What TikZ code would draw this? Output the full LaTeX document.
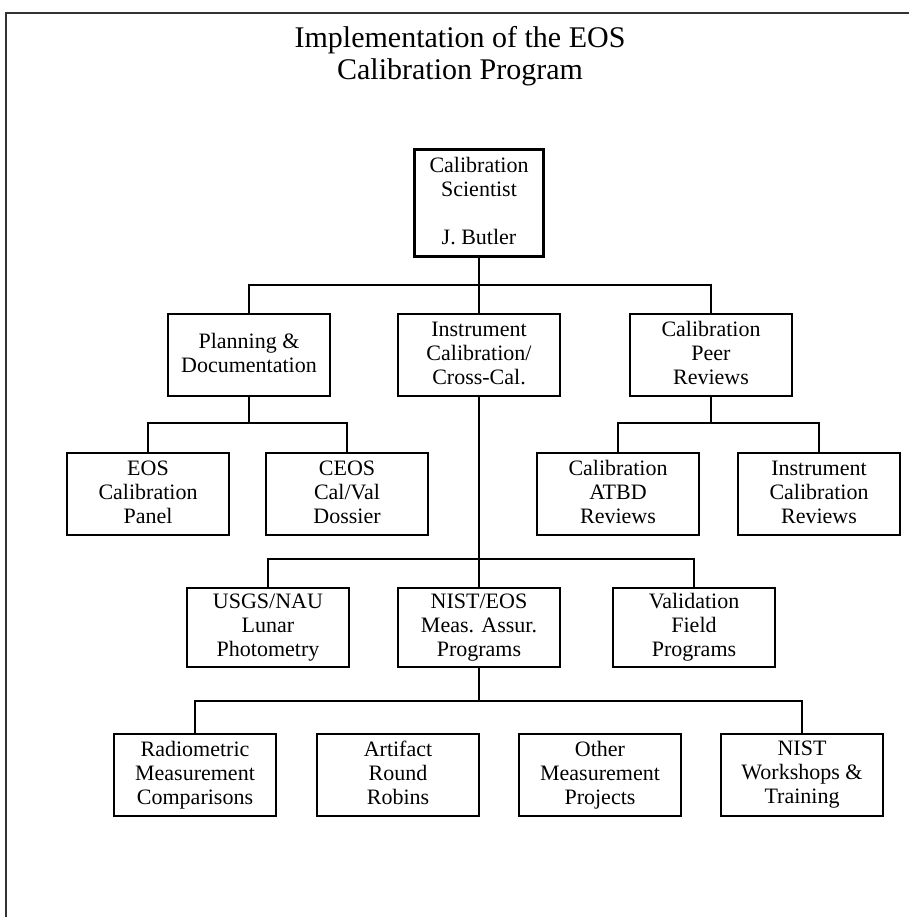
\documentclass[tikz,border=0pt]{standalone}
\usepackage{fontspec}
\setmainfont{Liberation Serif}
\tikzset{
  orgbox/.style={draw=black, line width=2.1pt, minimum width=162pt, minimum height=82pt,
    inner sep=0pt, align=center, font=\fontsize{22}{24}\selectfont,
    execute at begin node={\rule{0pt}{19pt}}, execute at end node={\rule[-4pt]{0pt}{4pt}}},
  link/.style={draw=black, line width=2.1pt},
  frameline/.style={draw=black!80, line width=1.4pt},
}
\begin{document}
\begin{tikzpicture}[x=1pt,y=-1pt]
\useasboundingbox (0,0) rectangle (909,917);
% frame (top and left edges)
\draw[frameline] (6,917) -- (6,13) -- (909,13);
% title
\node[anchor=north, align=center, inner sep=0pt, font=\fontsize{30}{32}\selectfont] (title) at (460,26)
  {Implementation of the EOS\\Calibration Program};
% level 1
\node[orgbox, minimum width=129pt, minimum height=107pt] (top) at (479,203)
  {Calibration\\Scientist\\[24pt]J. Butler};
% level 2
\node[orgbox] (plan) at (249,355) {Planning \&\\Documentation};
\node[orgbox] (inst) at (479,355) {Instrument\\Calibration/\\Cross-Cal.};
\node[orgbox] (peer) at (711,355) {Calibration\\Peer\\Reviews};
% level 3
\node[orgbox] (eospanel) at (148,494) {EOS\\Calibration\\Panel};
\node[orgbox] (ceos) at (347,494) {CEOS\\Cal/Val\\Dossier};
\node[orgbox] (atbd) at (618,494) {Calibration\\ATBD\\Reviews};
\node[orgbox] (icr) at (819,494) {Instrument\\Calibration\\Reviews};
% level 4
\node[orgbox, minimum height=79pt] (usgs) at (268,627.5) {USGS/NAU\\Lunar\\Photometry};
\node[orgbox, minimum height=79pt] (nist) at (479,627.5) {NIST/EOS\\Meas. Assur.\\Programs};
\node[orgbox, minimum height=79pt] (valid) at (694,627.5) {Validation\\Field\\Programs};
% level 5
\node[orgbox] (radio) at (195,775) {Radiometric\\Measurement\\Comparisons};
\node[orgbox] (artifact) at (398,775) {Artifact\\Round\\Robins};
\node[orgbox] (other) at (600,775) {Other\\Measurement\\Projects};
\node[orgbox] (nistw) at (802,775) {NIST\\Workshops \&\\Training};
% bus coordinates
\coordinate (b2) at (0,423);
\coordinate (b4) at (0,701);
% connectors
\draw[link] (top.south) -- (inst.north);
\draw[link] (plan.north) -- ++(0,-28) -| (peer.north);
\draw[link] (plan.south) -- (plan.south |- b2);
\draw[link] (eospanel.north) -- (eospanel.north |- b2) -| (ceos.north);
\draw[link] (peer.south) -- (peer.south |- b2);
\draw[link] (atbd.north) -- (atbd.north |- b2) -| (icr.north);
\draw[link] (inst.south) -- (nist.north);
\draw[link] (usgs.north) -- ++(0,-28) -| (valid.north);
\draw[link] (nist.south) -- (nist.south |- b4);
\draw[link] (radio.north) -- (radio.north |- b4) -| (nistw.north);
\end{tikzpicture}
\end{document}
